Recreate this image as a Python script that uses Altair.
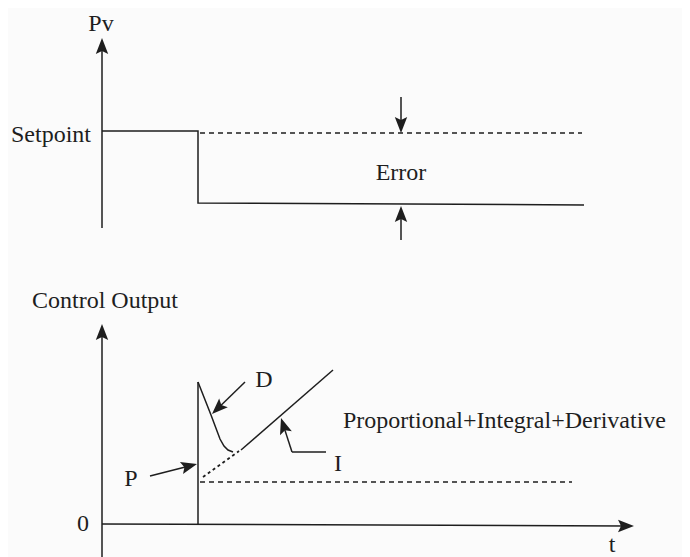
import altair as alt
import pandas as pd
import numpy as np

# ---- diagram geometry (pixel positions) ----
# plain solid polylines
solid_paths = {
    "pv_signal": [(102, 131), (198, 131), (198, 203), (584, 205)],
    "step":      [(198, 524), (198, 382)],
    "d_curve":   [(198, 382), (211, 415), (220, 439), (224, 446), (228, 450), (233, 452)],
    "i_line":    [(241, 450), (333, 370)],
    "i_leader":  [(326, 452), (292, 452)],
}
dashed_paths = {
    "setpoint_ref": [(200, 133), (582, 133)],
    "p_level":      [(200, 482), (572, 482)],
}
dotted_paths = {
    "p_to_i": [(203, 477), (239, 451)],
}
# arrows: (tail, tip)
arrows = {
    "pv_axis": ((102, 228), (102, 38)),
    "co_axis": ((102, 557), (102, 324)),
    "t_axis":  ((102, 524), (634, 526)),
    "err_top": ((401, 97), (401, 133)),
    "err_bot": ((401, 240), (401, 206)),
    "d_arrow": ((245, 382), (212, 414)),
    "p_arrow": ((150, 476), (197, 464)),
    "i_arrow": ((292, 452), (281, 418)),
}
# text labels: text, x, baseline y, align
labels = [
    ("Pv", 101, 31, "center"),
    ("Setpoint", 91, 142, "right"),
    ("Error", 401, 180, "center"),
    ("Control Output", 32, 308, "left"),
    ("D", 264, 387, "center"),
    ("I", 338, 471, "center"),
    ("P", 131, 486, "center"),
    ("Proportional+Integral+Derivative", 343, 428, "left"),
    ("0", 83, 531, "center"),
    ("t", 612, 552, "center"),
]

INK = "#1e1e1e"
HEAD_R = 10  # arrowhead half-size in px


def paths_df(paths):
    rows = []
    for name, pts in paths.items():
        for i, (x, y) in enumerate(pts):
            rows.append({"id": name, "o": i, "x": x, "y": y})
    return pd.DataFrame(rows)


shaft_rows, head_rows = [], []
for name, (tail, tip) in arrows.items():
    t = np.array(tail, float)
    p = np.array(tip, float)
    d = p - t
    u = d / np.linalg.norm(d)
    end = p - u * 8
    shaft_rows.append({"id": name, "o": 0, "x": t[0], "y": t[1]})
    shaft_rows.append({"id": name, "o": 1, "x": end[0], "y": end[1]})
    c = p - u * HEAD_R
    ang = (np.degrees(np.arctan2(u[0], -u[1])) + 360) % 360
    head_rows.append({"id": name, "x": c[0], "y": c[1], "angle": ang})

solid_df = pd.concat([paths_df(solid_paths), pd.DataFrame(shaft_rows)], ignore_index=True)
dashed_df = paths_df(dashed_paths)
dotted_df = paths_df(dotted_paths)
heads_df = pd.DataFrame(head_rows)
text_df = pd.DataFrame(labels, columns=["text", "x", "y", "align"])

X = alt.X("x:Q", scale=alt.Scale(domain=[8, 682]), axis=None)
Y = alt.Y("y:Q", scale=alt.Scale(domain=[8, 549], reverse=True), axis=None)


def line_layer(df, dash=None, width=1.5):
    kw = dict(color=INK, strokeWidth=width, clip=False)
    if dash:
        kw["strokeDash"] = dash
    return alt.Chart(df).mark_line(**kw).encode(
        x=X, y=Y, detail="id:N", order="o:Q"
    )


solid = line_layer(solid_df)
dashed = line_layer(dashed_df, [5, 4])
dotted = line_layer(dotted_df, [3, 3], 1.8)

heads = alt.Chart(heads_df).mark_point(
    shape="M0,-1L0.62,0.6L0,0.3L-0.62,0.6Z",
    size=(2 * HEAD_R) ** 2,
    filled=True,
    opacity=1,
    color=INK,
    strokeWidth=0,
    clip=False,
).encode(x=X, y=Y, angle=alt.Angle("angle:Q", scale=None))

text_layers = []
for align in ["left", "center", "right"]:
    sub = text_df[text_df["align"] == align]
    text_layers.append(
        alt.Chart(sub).mark_text(
            align=align,
            baseline="alphabetic",
            font="Liberation Serif",
            fontSize=24,
            color=INK,
        ).encode(x=X, y=Y, text="text:N")
    )

chart = alt.layer(solid, dashed, dotted, heads, *text_layers).properties(
    width=674, height=541, padding=0, background="#fbfbfb"
).configure_view(stroke=None)

chart.save("out.html", embed_options={"renderer": "svg", "actions": False})
